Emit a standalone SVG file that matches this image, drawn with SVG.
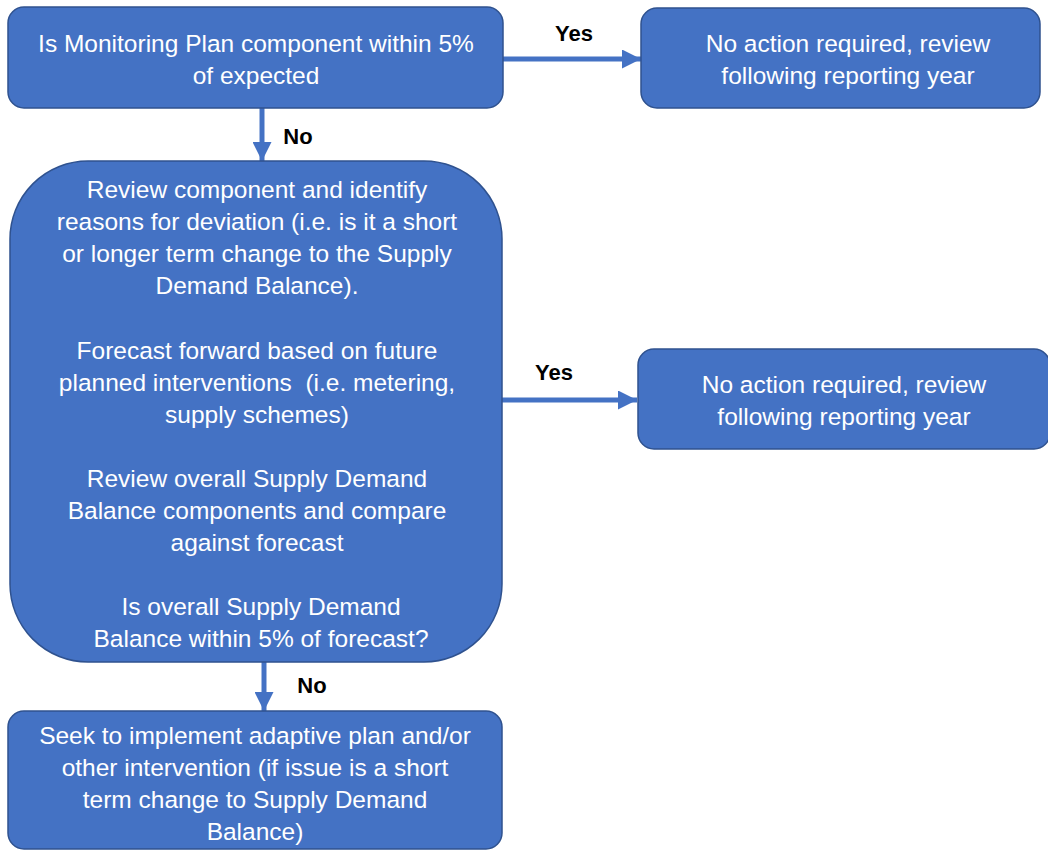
<svg xmlns="http://www.w3.org/2000/svg" width="1048" height="850" viewBox="0 0 1048 850">
<style>
.box{fill:#4472C4;stroke:#2F528F;stroke-width:1.5}
.t{font-family:"Liberation Sans",Arial,sans-serif;font-size:24.5px;fill:#ffffff;text-anchor:middle;dominant-baseline:central}
.lbl{font-family:"Liberation Sans",Arial,sans-serif;font-size:22px;font-weight:bold;fill:#000000;text-anchor:middle;dominant-baseline:central}
.c{stroke:#4472C4;stroke-width:5;fill:none}
</style>
<defs>
<marker id="ah" viewBox="0 0 10 10" refX="10" refY="5" markerUnits="userSpaceOnUse" markerWidth="19" markerHeight="19" orient="auto">
<path d="M0,0 L10,5 L0,10 Z" fill="#4472C4"/>
</marker>
</defs>
<rect width="1048" height="850" fill="#ffffff"/>
<g id="connectors">
<line class="c" x1="503" y1="59" x2="641" y2="59" marker-end="url(#ah)"/>
<line class="c" x1="262" y1="108" x2="262" y2="161" marker-end="url(#ah)"/>
<line class="c" x1="502" y1="400" x2="637" y2="400" marker-end="url(#ah)"/>
<line class="c" x1="264" y1="662" x2="264" y2="711" marker-end="url(#ah)"/>
<text class="lbl" x="574" y="33">Yes</text>
<text class="lbl" x="298" y="136">No</text>
<text class="lbl" x="554" y="372">Yes</text>
<text class="lbl" x="312" y="685">No</text>
</g>
<g id="n1">
<rect class="box" x="8" y="7" width="495" height="101" rx="16"/>
<text class="t" x="256" y="43">Is Monitoring Plan component within 5%</text>
<text class="t" x="256" y="75">of expected</text>
</g>
<g id="n2">
<rect class="box" x="641" y="8" width="399" height="100" rx="16"/>
<text class="t" x="848" y="43">No action required, review</text>
<text class="t" x="848" y="75">following reporting year</text>
</g>
<g id="n3">
<rect class="box" x="10" y="161" width="492" height="501" rx="78"/>
<text class="t" x="257" y="189">Review component and identify</text>
<text class="t" x="257" y="221">reasons for deviation (i.e. is it a short</text>
<text class="t" x="257" y="253">or longer term change to the Supply</text>
<text class="t" x="257" y="285">Demand Balance).</text>
<text class="t" x="257" y="350">Forecast forward based on future</text>
<text class="t" x="257" y="382" xml:space="preserve">planned interventions  (i.e. metering,</text>
<text class="t" x="257" y="414">supply schemes)</text>
<text class="t" x="257" y="478">Review overall Supply Demand</text>
<text class="t" x="257" y="510">Balance components and compare</text>
<text class="t" x="257" y="542">against forecast</text>
<text class="t" x="261" y="606">Is overall Supply Demand</text>
<text class="t" x="261" y="638">Balance within 5% of forecast?</text>
</g>
<g id="n4">
<rect class="box" x="638" y="349" width="412" height="100" rx="16"/>
<text class="t" x="844" y="384">No action required, review</text>
<text class="t" x="844" y="416">following reporting year</text>
</g>
<g id="n5">
<rect class="box" x="8" y="711" width="494" height="138" rx="16"/>
<text class="t" x="255" y="735">Seek to implement adaptive plan and/or</text>
<text class="t" x="255" y="767">other intervention (if issue is a short</text>
<text class="t" x="255" y="799">term change to Supply Demand</text>
<text class="t" x="255" y="831">Balance)</text>
</g>
</svg>
